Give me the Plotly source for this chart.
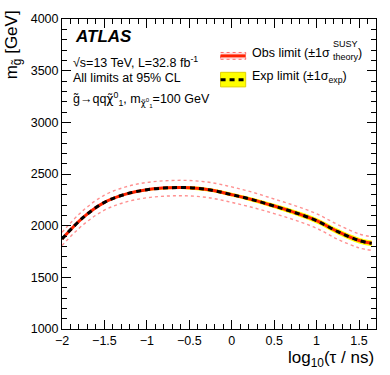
import plotly.graph_objects as go

# log10(tau/ns) grid and limit values
tau = [-2.0, -1.75, -1.5, -1.25, -1.0, -0.75, -0.5, -0.25, 0.0, 0.25, 0.5, 0.75, 1.0, 1.25, 1.5, 1.65]
obs = [1871, 2080, 2225, 2305, 2348, 2366, 2367, 2345, 2300, 2250, 2190, 2125, 2048, 1942, 1856, 1829]
obs_up = [1935, 2148, 2295, 2375, 2418, 2436, 2437, 2418, 2375, 2322, 2258, 2192, 2115, 2010, 1920, 1892]
obs_dn = [1808, 2010, 2150, 2228, 2270, 2287, 2288, 2268, 2225, 2175, 2117, 2052, 1975, 1868, 1785, 1760]
exp = [1871, 2080, 2225, 2305, 2348, 2366, 2367, 2345, 2300, 2250, 2190, 2125, 2048, 1942, 1856, 1829]
exp_err = [8, 8, 9, 10, 12, 14, 16, 17, 18, 20, 22, 25, 27, 28, 28, 28]

FONT = "Liberation Sans, Arial, Helvetica, sans-serif"
CHI = '<span style="font-family:DejaVu Sans">χ̃</span>'

exp_up = [e + d for e, d in zip(exp, exp_err)]
exp_dn = [e - d for e, d in zip(exp, exp_err)]

fig = go.Figure()

# expected +-1 sigma band
fig.add_trace(go.Scatter(x=tau, y=exp_up, mode="lines", line=dict(width=0, shape="spline"),
                         hoverinfo="skip", showlegend=False))
fig.add_trace(go.Scatter(x=tau, y=exp_dn, mode="lines", line=dict(width=0, shape="spline"),
                         fill="tonexty", fillcolor="#ffff00", hoverinfo="skip", showlegend=False))

# observed theory variations
for band in (obs_up, obs_dn):
    fig.add_trace(go.Scatter(x=tau, y=band, mode="lines",
                             line=dict(color="rgba(255,70,70,0.6)", width=1.4, dash="dot", shape="spline"),
                             showlegend=False))

fig.add_trace(go.Scatter(x=tau, y=obs, mode="lines",
                         line=dict(color="#ff2200", width=3, shape="spline"), showlegend=False))
fig.add_trace(go.Scatter(x=tau, y=exp, mode="lines",
                         line=dict(color="black", width=3, dash="5px,4px", shape="spline"), showlegend=False))

axis_common = dict(
    showline=True, linecolor="black", linewidth=1, mirror="ticks",
    ticks="inside", ticklen=9, tickcolor="black", showgrid=False, zeroline=False,
    tickfont=dict(family=FONT, size=12.5, color="black"),
)
fig.update_xaxes(range=[-2, 1.7], tickvals=[-2, -1.5, -1, -0.5, 0, 0.5, 1, 1.5],
                 minor=dict(dtick=0.1, tick0=-2, ticks="inside", ticklen=5, tickcolor="black"),
                 **axis_common)
fig.update_yaxes(range=[1000, 4000], dtick=500, tick0=1000,
                 minor=dict(dtick=100, tick0=1000, ticks="inside", ticklen=5, tickcolor="black"),
                 **axis_common)


def note(x, y, text, size=12.5, xanchor="left", **kw):
    return dict(xref="paper", yref="paper", x=x, y=y, xanchor=xanchor, yanchor="middle",
                text=text, showarrow=False, font=dict(family=FONT, size=size, color="black"), **kw)


ann = [
    dict(xref="paper", yref="paper", x=1.0, y=-0.055, xanchor="right", yanchor="top",
         text="log<sub>10</sub>(τ / ns)", showarrow=False,
         font=dict(family=FONT, size=17, color="black")),
    dict(xref="paper", yref="paper", x=-0.157, y=1.035, xanchor="center", yanchor="top",
         text="m<sub>g̃</sub> [GeV]", textangle=-90, showarrow=False,
         font=dict(family=FONT, size=17, color="black")),
    note(0.035, 0.942, "<b><i>ATLAS</i></b>", size=17),
    note(0.03, 0.861, "√s=13 TeV, L=32.8 fb<sup>-1</sup>"),
    note(0.03, 0.811, "All limits at 95% CL"),
    note(0.03, 0.739, "g̃→qq" + CHI + "<sup>0</sup><sub>1</sub>, m<sub>" + CHI + "<sup>0</sup><sub>1</sub></sub>=100 GeV"),
    # legend texts
    note(0.6, 0.891, "Obs limit (±1σ"),
    note(0.856, 0.918, "SUSY", size=9),
    note(0.856, 0.876, "theory", size=9),
    note(0.936, 0.891, ")"),
    note(0.6, 0.814, "Exp limit (±1σ<sub>exp</sub>)"),
]

shapes = [
    # obs legend symbol
    dict(type="rect", xref="paper", yref="paper", x0=0.505, x1=0.585, y0=0.870, y1=0.892,
         fillcolor="rgba(255,120,120,0.25)", line=dict(color="rgba(255,60,60,0.75)", width=1, dash="dot")),
    dict(type="line", xref="paper", yref="paper", x0=0.505, x1=0.585, y0=0.881, y1=0.881,
         line=dict(color="#ff2200", width=3)),
    # exp legend symbol
    dict(type="rect", xref="paper", yref="paper", x0=0.505, x1=0.585, y0=0.781, y1=0.828,
         fillcolor="#ffff00", line=dict(color="#e0d000", width=1)),
    dict(type="line", xref="paper", yref="paper", x0=0.505, x1=0.585, y0=0.804, y1=0.804,
         line=dict(color="black", width=3, dash="5px,4px")),
]

fig.update_layout(
    width=390, height=375,
    margin=dict(l=62, r=14, t=12, b=46),
    plot_bgcolor="white", paper_bgcolor="white",
    showlegend=False,
    annotations=ann, shapes=shapes,
)

fig.write_html("out.html", post_script="document.body.style.margin='0';",
               config={"displayModeBar": False})
